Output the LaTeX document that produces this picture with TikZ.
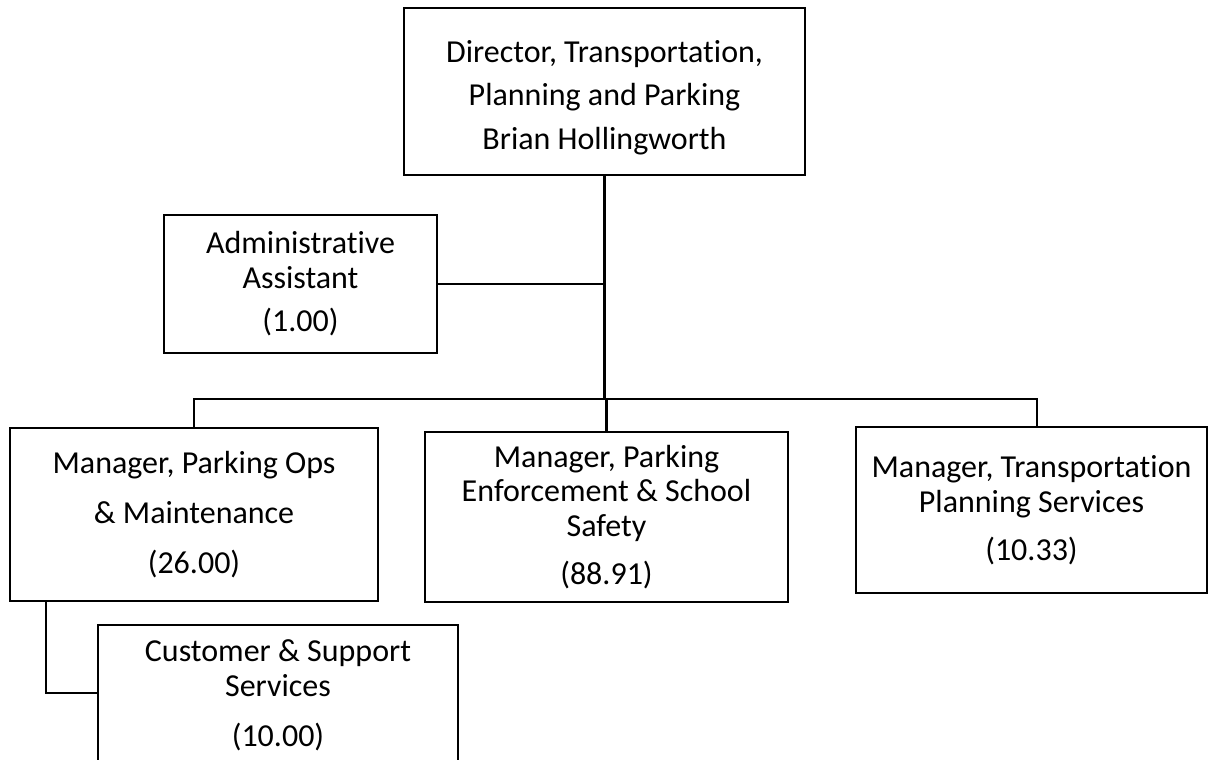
\documentclass[tikz,border=0pt]{standalone}
\usepackage{fontspec}
\setmainfont{Carlito}[Ligatures=NoCommon]
\usetikzlibrary{calc}
\begin{document}
\begin{tikzpicture}[x=1pt,y=-1pt,
  orgbox/.style={draw=black, line width=2.3pt, fill=white, align=center, inner sep=0pt,
    font=\fontsize{32}{34.5}\selectfont},
  thick link/.style={draw=black, line width=2.3pt},
  thin link/.style={draw=black, line width=1.2pt}]
\useasboundingbox (0,0) rectangle (1208,760);

% boxes (centre, width, height)
\node[orgbox, minimum width=401pt, minimum height=167pt] (dir) at (604.5,91.5)
  {\rule{0pt}{34pt}Director, Transportation,\\[9pt] Planning and Parking\\[9pt] Brian Hollingworth};
\node[orgbox, minimum width=273pt, minimum height=138pt] (admin) at (300.5,284)
  {Administrative\\ Assistant\\[9pt] (1.00)};
\node[orgbox, minimum width=368pt, minimum height=173pt] (ops) at (194,514.5)
  {Manager, Parking Ops\\[15.5pt] \& Maintenance\\[15.5pt] (26.00)};
\node[orgbox, minimum width=363pt, minimum height=170pt] (enf) at (606.5,517)
  {Manager, Parking\\ Enforcement \& School\\ Safety\\[13.5pt] (88.91)};
\node[orgbox, minimum width=351pt, minimum height=166pt] (tps) at (1031.5,510)
  {Manager, Transportation\\ Planning Services\\[13.5pt] (10.33)};
\node[orgbox, minimum width=360pt, minimum height=141pt] (cust) at (278,695.5)
  {Customer \& Support\\ Services\\[15.5pt] (10.00)};

% branching level of the three managers
\coordinate (bus) at (604.5,399);

% connectors
\draw[thick link] (dir.south) -- (bus);
\draw[thick link] (admin.east) -- (admin.east -| dir.south);
\draw[thin link] (ops.north) -- (ops.north |- bus) -- (bus);
\draw[thick link] (bus) -- ([xshift=5.5pt]tps.north |- bus) -- ([xshift=5.5pt]tps.north);
\draw[thick link] (bus) -- (enf.north |- bus) -- (enf.north);
\draw[thick link] ([xshift=37pt]ops.south west) |- ([yshift=2.5pt]cust.west);
\end{tikzpicture}
\end{document}
